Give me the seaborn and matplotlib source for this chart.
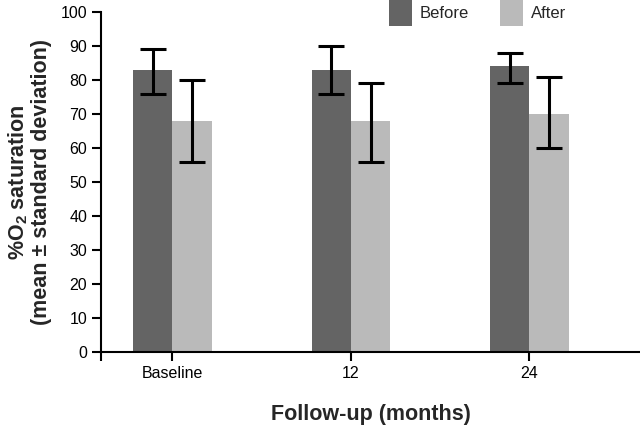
import numpy as np
import matplotlib
matplotlib.use("Agg")
import matplotlib.pyplot as plt
import pandas as pd
import seaborn as sns

# values
timepoints = ["Baseline", "12", "24"]
groups = ["Before", "After"]
before_mean = [83, 83, 84]
before_low = [76, 76, 79]
before_high = [89, 90, 88]
after_mean = [68, 68, 70]
after_low = [56, 56, 60]
after_high = [80, 79, 81]

colors = {"Before": "#646464", "After": "#bababa"}

df = pd.DataFrame({
    "time": timepoints * 2,
    "group": ["Before"] * 3 + ["After"] * 3,
    "sat": before_mean + after_mean,
    "low": before_low + after_low,
    "high": before_high + after_high,
})

sns.set_style("ticks")
plt.rcParams["font.family"] = ["Liberation Sans", "DejaVu Sans"]
plt.rcParams["mathtext.fontset"] = "custom"
plt.rcParams["mathtext.bf"] = "Liberation Sans:bold"
plt.rcParams["mathtext.rm"] = "Liberation Sans:bold"
plt.rcParams["mathtext.default"] = "bf"

fig = plt.figure(figsize=(6.4, 4.26), dpi=100)
ax = fig.add_axes([0.158, 0.174, 0.842, 0.798])

sns.barplot(data=df, x="time", y="sat", hue="group", hue_order=groups,
            order=timepoints, palette=colors, width=0.44, gap=0,
            errorbar=None, saturation=1, ax=ax, legend=True,
            linewidth=0, edgecolor="none")

# error bars at the bar centres
for container, g in zip(ax.containers, groups):
    sub = df[df["group"] == g].set_index("time").loc[timepoints]
    xs = [p.get_x() + p.get_width() / 2 for p in container.patches]
    yerr = np.array([sub["sat"] - sub["low"], sub["high"] - sub["sat"]])
    ax.errorbar(xs, sub["sat"], yerr=yerr, fmt="none", ecolor="black",
                elinewidth=2.2, capsize=9.4, capthick=2.2, zorder=5)

left = -0.40
ax.set_xlim(left, 2.62)
ax.set_ylim(0, 100)
ax.set_yticks(np.arange(0, 101, 10))
ax.set_xticks([left, 0, 1, 2])
ax.set_xticklabels(["", "Baseline", "12", "24"])
ax.tick_params(axis="both", labelsize=11.5, length=6.5, width=1.5, pad=3.5,
               colors="black")

for s in ["top", "right"]:
    ax.spines[s].set_visible(False)
for s in ["left", "bottom"]:
    ax.spines[s].set_linewidth(1.5)
    ax.spines[s].set_color("black")

ax.set_xlabel("Follow-up (months)", fontsize=15.5, fontweight="bold", labelpad=17)
ax.set_ylabel("%O$_2$ saturation\n(mean ± standard deviation)", fontsize=15.5,
              fontweight="bold", labelpad=6, linespacing=1.1)

ax.legend(loc="upper left", bbox_to_anchor=(389 / 640, 1.0),
          bbox_transform=fig.transFigure, ncol=2, frameon=False, fontsize=12,
          borderpad=0, borderaxespad=0, handlelength=1.4, handleheight=2.0,
          handletextpad=0.45, columnspacing=1.85, title=None)

fig.savefig("out.png", dpi=100)
